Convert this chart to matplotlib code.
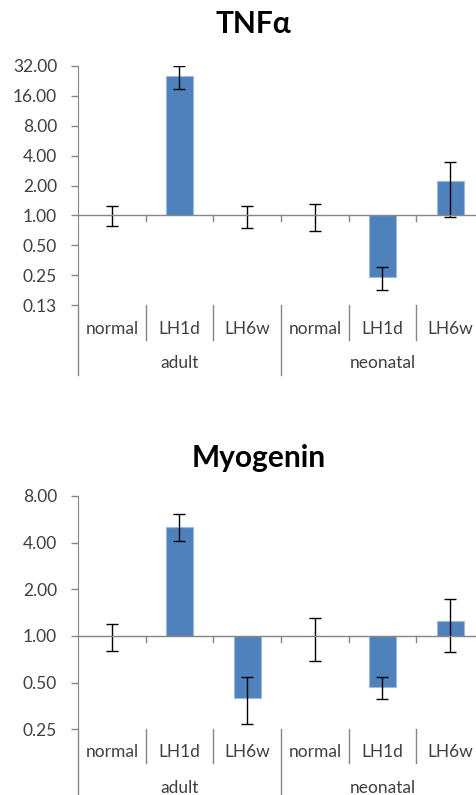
import numpy as np
import matplotlib.pyplot as plt

plt.rcParams['font.family'] = ['Lato', 'DejaVu Sans']

conditions = ['normal', 'LH1d', 'LH6w', 'normal', 'LH1d', 'LH6w']
groups = ['adult', 'neonatal']

# TNFα fold change, with error bar ends
tnf_val = [1.0, 25.4, 1.0, 1.0, 0.237, 2.24]
tnf_hi = [1.24, 32.2, 1.24, 1.30, 0.30, 3.47]
tnf_lo = [0.78, 18.6, 0.75, 0.69, 0.177, 0.955]
tnf_ticks = [0.125, 0.25, 0.5, 1, 2, 4, 8, 16, 32]
tnf_ticklabels = ['0.13', '0.25', '0.50', '1.00', '2.00', '4.00', '8.00', '16.00', '32.00']

# Myogenin fold change, with error bar ends
myo_val = [1.0, 5.05, 0.40, 1.0, 0.466, 1.24]
myo_hi = [1.19, 6.12, 0.54, 1.31, 0.54, 1.73]
myo_lo = [0.80, 4.10, 0.27, 0.69, 0.39, 0.79]
myo_ticks = [0.25, 0.5, 1, 2, 4, 8]
myo_ticklabels = ['0.25', '0.50', '1.00', '2.00', '4.00', '8.00']

W, H = 477, 795
fig = plt.figure(figsize=(W / 100, H / 100), dpi=100)

axis_color = '#868686'
text_color = '#404040'
bar_color = '#4F81BD'


def panel(top_px, bottom_px, title, title_x, title_y, vals, his, los, ticks,
          ticklabels, sep_short, sep_long, lab1, lab2):
    left_px, right_px = 78, 484
    ax = fig.add_axes([left_px / W, 1 - bottom_px / H,
                       (right_px - left_px) / W, (bottom_px - top_px) / H])
    ax.set_yscale('log', base=2)
    x = np.arange(len(vals))
    vals = np.array(vals)
    yerr = [vals - np.array(los), np.array(his) - vals]
    ax.bar(x, vals - 1, bottom=1, width=0.4, color=bar_color,
           edgecolor='#9DB9DD', linewidth=0.8, zorder=2)
    ax.errorbar(x, vals, yerr=yerr, fmt='none', ecolor='black',
                elinewidth=1, capsize=4, capthick=1, zorder=3)
    ax.set_xlim(-0.5, len(vals) - 0.5)
    ax.set_ylim(ticks[0], ticks[-1])
    ax.set_yticks(ticks)
    ax.set_yticklabels(ticklabels)
    ax.yaxis.set_minor_locator(plt.NullLocator())
    ax.tick_params(axis='y', direction='out', length=5, width=1,
                   color=axis_color, labelsize=12.5, labelcolor=text_color, pad=10)
    ax.set_xticks([])
    for s in ['top', 'right', 'bottom']:
        ax.spines[s].set_visible(False)
    ax.spines['left'].set_color(axis_color)

    # axis line at 1.0 with small ticks
    ax.axhline(1, color=axis_color, lw=1, zorder=4)
    bounds = np.arange(0.5, len(vals) - 1, 1.0)
    tr = ax.get_xaxis_transform()
    ax_h = bottom_px - top_px
    px_per_oct = ax_h / np.log2(ticks[-1] / ticks[0])
    for b in bounds:
        ax.plot([b, b], [1, 2 ** (-6 / px_per_oct)],
                color=axis_color, lw=1, zorder=4)

    # category separators under the plot
    for b in bounds:
        length = sep_long if b == 2.5 else sep_short
        ax.plot([b, b], [0, -length / ax_h], transform=tr, color=axis_color,
                lw=1, clip_on=False)
    ax.plot([-0.5, -0.5], [0, -sep_long / ax_h], transform=tr, color=axis_color,
            lw=1, clip_on=False)

    for i, c in enumerate(conditions):
        ax.text(i, -lab1 / ax_h, c, transform=tr, ha='center', va='center',
                fontsize=12.5, color=text_color)
    for g, gx in zip(groups, [1, 4]):
        ax.text(gx, -lab2 / ax_h, g, transform=tr, ha='center', va='center',
                fontsize=12.5, color=text_color)

    fig.text(title_x / W, 1 - title_y / H, title, ha='center', va='baseline',
             fontsize=21.5, fontweight='bold', color='black')
    return ax


panel(66, 305, 'TNFα', 253, 33, tnf_val, tnf_hi, tnf_lo, tnf_ticks,
      tnf_ticklabels, 35, 70, 24, 58)
panel(496, 729.3, 'Myogenin', 259, 467, myo_val, myo_hi, myo_lo, myo_ticks,
      myo_ticklabels, 34, 66, 23, 59)

fig.savefig('out.png', dpi=100)
